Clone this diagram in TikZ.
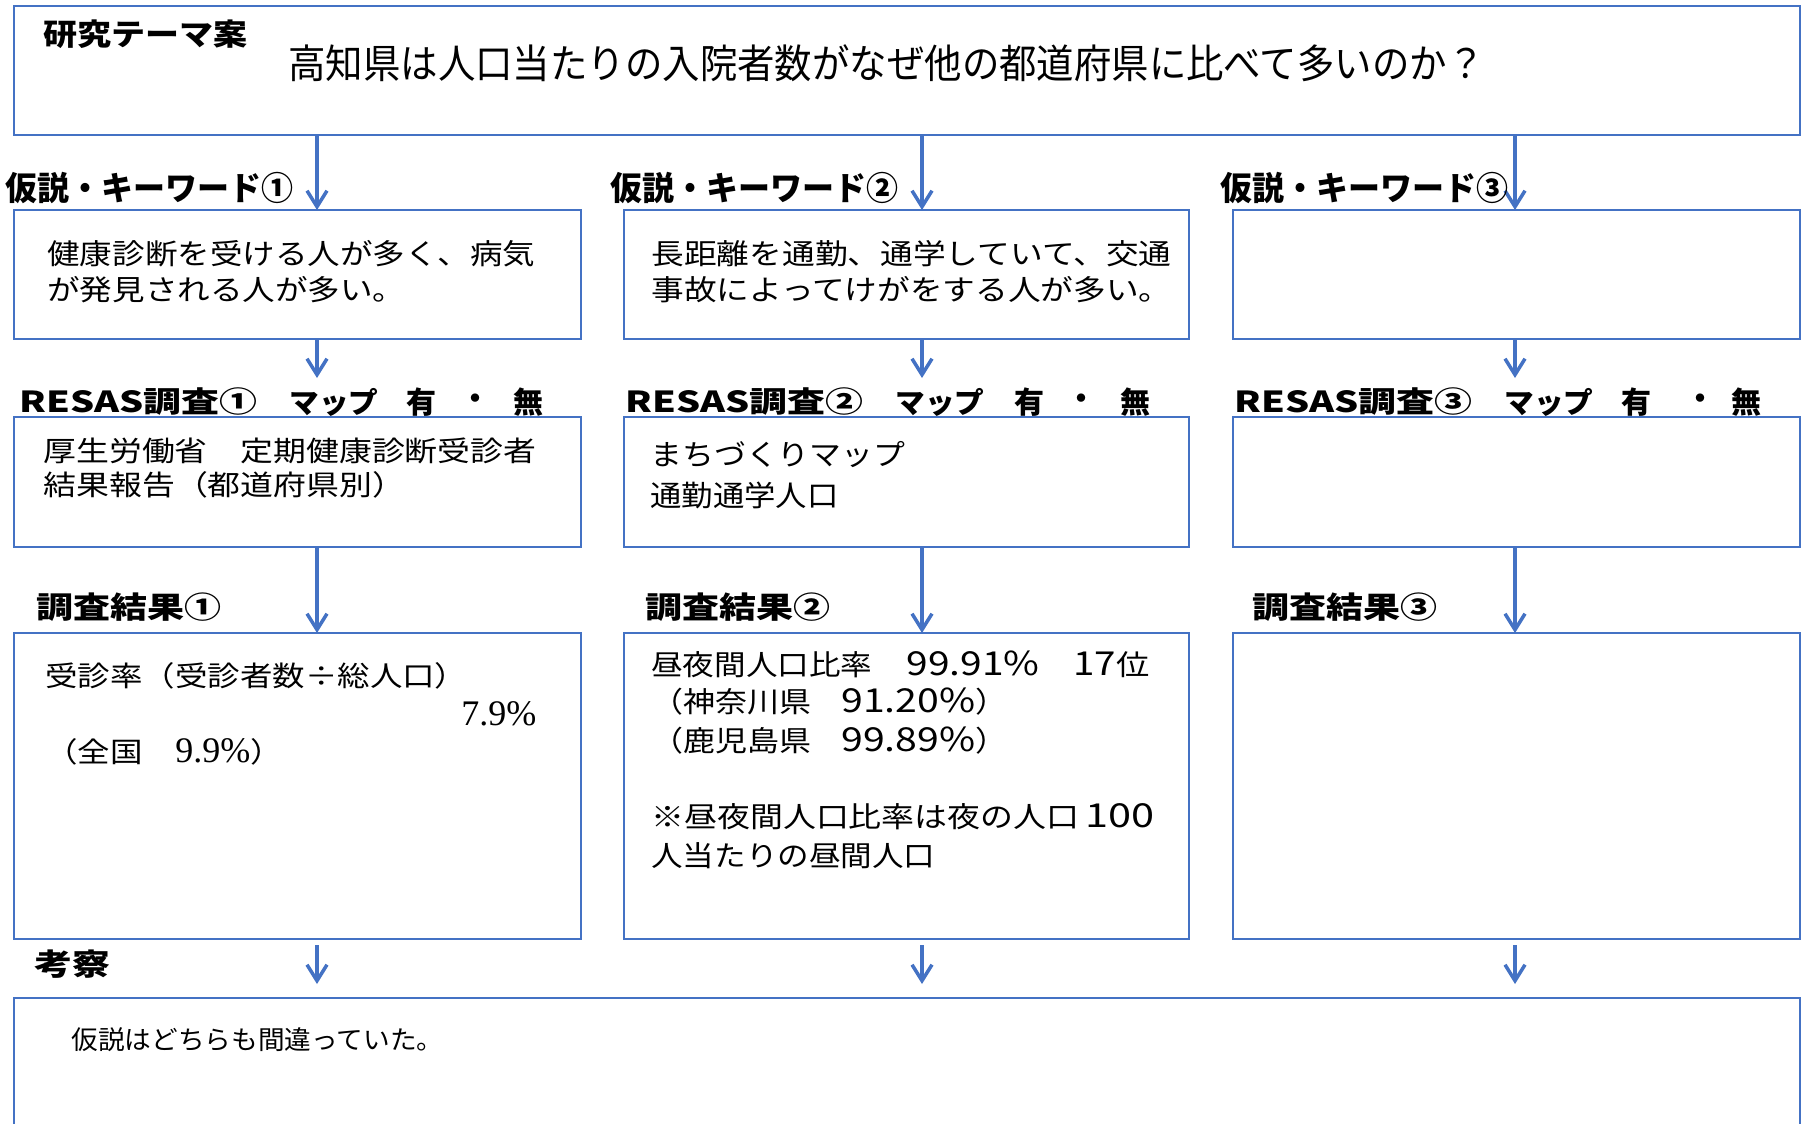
\documentclass[tikz,border=0pt]{standalone}
\usepackage{fontspec}
\setmainfont{Noto Sans CJK JP}
\newfontfamily\seriffont{Liberation Serif}
\usepackage{graphicx}
\usetikzlibrary{arrows.meta}
\definecolor{lineblue}{RGB}{68,114,196}
\newlength\pu \setlength\pu{0.5pt}
\newcommand\fitw[3]{\resizebox{#1\pu}{\height}{\fontsize{#2}{#2}\selectfont #3}}
\newcommand\segw[2]{\makebox[#1\pu][l]{#2}}
\tikzset{
  bx/.style={draw=lineblue, line width=1.25pt, inner sep=0pt, outer sep=0pt, anchor=north west},
  ar/.style={draw=lineblue, line width=1.75pt, -{Straight Barb[length=8pt,width=10pt]}},
  tx/.style={inner sep=0pt, anchor=west, text=black},
  tc/.style={inner sep=0pt, anchor=center, text=black},
  lb/.style={inner sep=0pt, anchor=center, text=black, font=\fontsize{15pt}{15pt}\selectfont\bfseries},
}
\begin{document}
\begin{tikzpicture}[x=0.5pt, y=-0.5pt]
\useasboundingbox (0,0) rectangle (1807,1123);
\clip (0,0) rectangle (1807,1123);
\fill[white] (0,0) rectangle (1807,1123);

% boxes
\node[bx, minimum width=893pt, minimum height=64.5pt] (top) at (14,6) {};
\node[bx, minimum width=283.5pt, minimum height=64.5pt] (h1) at (14,210) {};
\node[bx, minimum width=282.5pt, minimum height=64.5pt] (h2) at (624,210) {};
\node[bx, minimum width=283.5pt, minimum height=64.5pt] (h3) at (1233,210) {};
\node[bx, minimum width=283.5pt, minimum height=65pt] (r1) at (14,417) {};
\node[bx, minimum width=282.5pt, minimum height=65pt] (r2) at (624,417) {};
\node[bx, minimum width=283.5pt, minimum height=65pt] (r3) at (1233,417) {};
\node[bx, minimum width=283.5pt, minimum height=153pt] (s1) at (14,633) {};
\node[bx, minimum width=282.5pt, minimum height=153pt] (s2) at (624,633) {};
\node[bx, minimum width=283.5pt, minimum height=153pt] (s3) at (1233,633) {};
\node[bx, minimum width=893pt, minimum height=81pt] (k) at (14,998) {};

% arrow columns
\coordinate (a1) at (317,0);
\coordinate (a2) at (922,0);
\coordinate (a3) at (1515,0);
\coordinate (e1) at (317,378);
\coordinate (e2) at (922,378);
\coordinate (e3) at (1515,378);
\coordinate (g1) at (317,945);
\coordinate (g2) at (922,945);
\coordinate (g3) at (1515,945);
\coordinate (f1) at (317,984);
\coordinate (f2) at (922,984);
\coordinate (f3) at (1515,984);

\draw[ar] (top.south -| a1) -- (h1.north -| a1);
\draw[ar] (top.south -| a2) -- (h2.north -| a2);
\draw[ar] (top.south -| a3) -- (h3.north -| a3);
\draw[ar] (h1.south -| a1) -- (e1);
\draw[ar] (h2.south -| a2) -- (e2);
\draw[ar] (h3.south -| a3) -- (e3);
\draw[ar] (r1.south -| a1) -- (s1.north -| a1);
\draw[ar] (r2.south -| a2) -- (s2.north -| a2);
\draw[ar] (r3.south -| a3) -- (s3.north -| a3);
\draw[ar] (g1) -- (f1);
\draw[ar] (g2) -- (f2);
\draw[ar] (g3) -- (f3);

% title
\node[tx] (tlab) at (43,34) {\fitw{204}{15pt}{\bfseries 研究テーマ案}};
\node[tx] (tq) at (288,63) {\fitw{1196}{20pt}{高知県は人口当たりの入院者数がなぜ他の都道府県に比べて多いのか？}};

% hypothesis labels
\node[tx] (hl1) at (5,188) {\fitw{288}{16.5pt}{\bfseries 仮説・キーワード①}};
\node[tx] (hl2) at (610,188) {\fitw{288}{16.5pt}{\bfseries 仮説・キーワード②}};
\node[tx] (hl3) at (1220,188) {\fitw{288}{16.5pt}{\bfseries 仮説・キーワード③}};

% hypothesis texts
\node[tx] (h1a) at (47,254) {\fitw{488}{14.25pt}{健康診断を受ける人が多く、病気}};
\node[tx] (h1b) at (47,290) {\fitw{358}{14.25pt}{が発見される人が多い。}};
\node[tx] (h2a) at (651,254) {\fitw{520}{14.25pt}{長距離を通勤、通学していて、交通}};
\node[tx] (h2b) at (651,290) {\fitw{520}{14.25pt}{事故によってけがをする人が多い。}};

% RESAS labels
\node[tx] (rl1) at (19,402) {\fitw{238}{14.5pt}{\bfseries RESAS調査①}};
\node[tx] (rm1) at (289,402) {\fitw{89}{14.5pt}{\bfseries マップ}};
\node[lb] (ry1) at (421,402) {有};
\node[lb] (rd1) at (475,402) {・};
\node[lb] (rn1) at (528,402) {無};
\node[tx] (rl2) at (625,402) {\fitw{238}{14.5pt}{\bfseries RESAS調査②}};
\node[tx] (rm2) at (895,402) {\fitw{89}{14.5pt}{\bfseries マップ}};
\node[lb] (ry2) at (1029,402) {有};
\node[lb] (rd2) at (1081,402) {・};
\node[lb] (rn2) at (1135,402) {無};
\node[tx] (rl3) at (1234,402) {\fitw{238}{14.5pt}{\bfseries RESAS調査③}};
\node[tx] (rm3) at (1504,402) {\fitw{89}{14.5pt}{\bfseries マップ}};
\node[lb] (ry3) at (1636,402) {有};
\node[lb] (rd3) at (1700,402) {・};
\node[lb] (rn3) at (1746,402) {無};

% RESAS texts
\node[tx] (r1a) at (43,451) {\fitw{493}{14pt}{厚生労働省　定期健康診断受診者}};
\node[tx] (r1b) at (43,485) {\fitw{362}{14pt}{結果報告（都道府県別）}};
\node[tx] (r2a) at (650,455) {\fitw{255}{14.5pt}{まちづくりマップ}};
\node[tx] (r2b) at (650,495) {\fitw{188}{14.5pt}{通勤通学人口}};

% result labels
\node[tx] (sl1) at (36,607) {\fitw{185}{15pt}{\bfseries 調査結果①}};
\node[tx] (sl2) at (645,607) {\fitw{185}{15pt}{\bfseries 調査結果②}};
\node[tx] (sl3) at (1252,607) {\fitw{185}{15pt}{\bfseries 調査結果③}};

% result 1 texts
\node[tx] (s1a) at (45,676) {\fitw{422}{14pt}{受診率（受診者数÷総人口）}};
\node[tx] (s1b) at (461,714) {\seriffont\fontsize{18pt}{18pt}\selectfont 7.9\%};
\node[tx] (s1c) at (45,752) {\fitw{130}{14pt}{（全国　}{\seriffont\fontsize{18pt}{18pt}\selectfont 9.9\%}\scalebox{1.16}[1]{\fontsize{14pt}{14pt}\selectfont ）}};

% result 2 texts
\node[tx] (s2a) at (651,664) {\segw{255}{\fitw{221}{14.25pt}{昼夜間人口比率}}\segw{167}{\fitw{133}{16.5pt}{99.91\%}}\fitw{76}{14.25pt}{{\fontsize{16.5pt}{16.5pt}\selectfont 17}位}};
\node[tx] (s2b) at (651,702) {\segw{190}{\fitw{160}{14.25pt}{（神奈川県}}\segw{134}{\fitw{134}{16.5pt}{91.20\%}}\fitw{32}{14.25pt}{）}};
\node[tx] (s2c) at (651,741) {\segw{190}{\fitw{160}{14.25pt}{（鹿児島県}}\segw{134}{\fitw{134}{16.5pt}{99.89\%}}\fitw{32}{14.25pt}{）}};
\node[tx] (s2d) at (651,817) {\segw{434}{\fitw{428}{14.25pt}{※昼夜間人口比率は夜の人口}}\fitw{69}{16.5pt}{100}};
\node[tx] (s2e) at (651,856) {\fitw{284}{14.25pt}{人当たりの昼間人口}};

% conclusion
\node[tx] (klab) at (34,964) {\fitw{76}{15pt}{\bfseries 考察}};
\node[tx] (ktx) at (71,1040) {\fitw{372}{13pt}{仮説はどちらも間違っていた。}};
\end{tikzpicture}
\end{document}
